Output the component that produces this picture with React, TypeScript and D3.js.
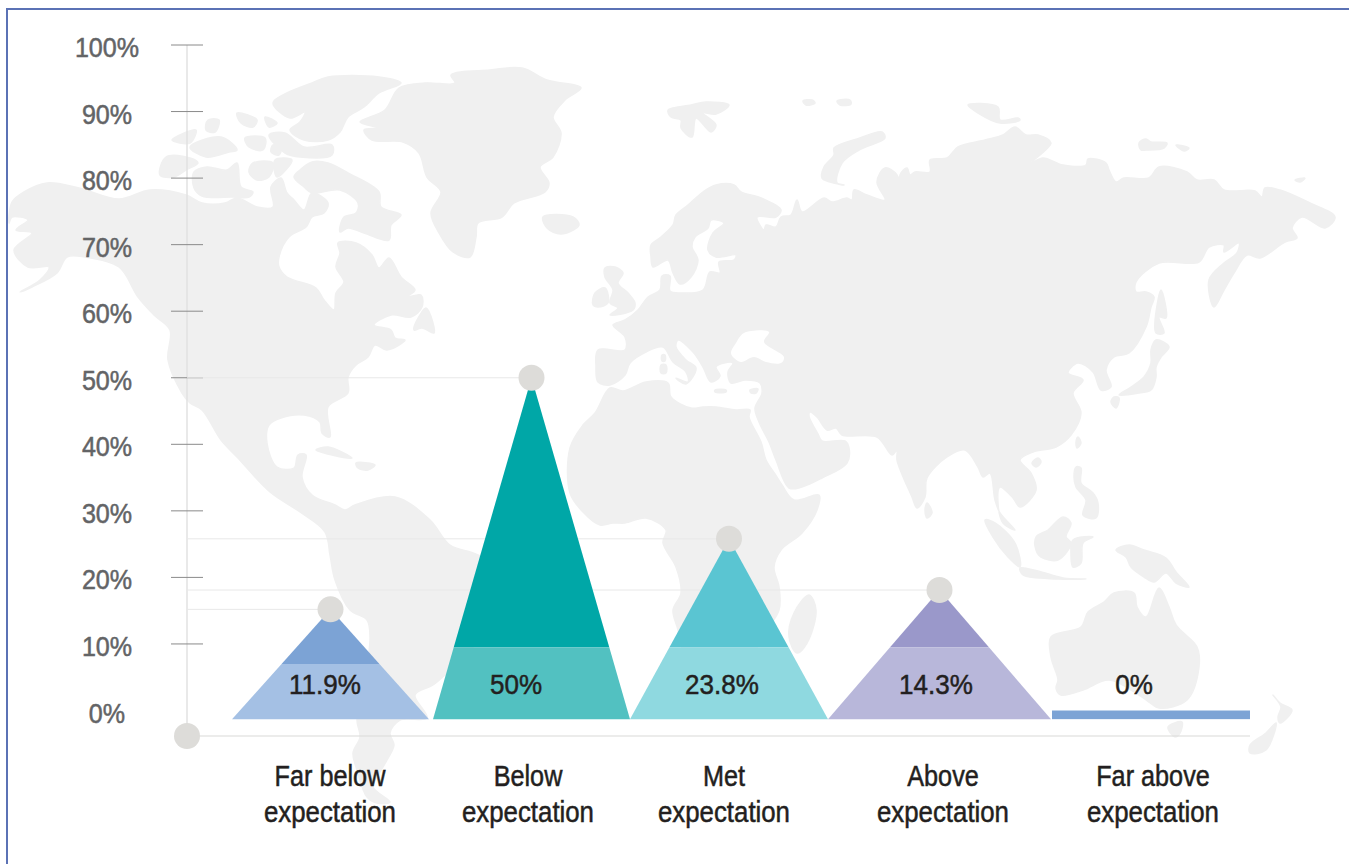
import React from "react";
import * as d3 from "d3";

// ---- chart data ----
const categories = ["Far below", "Below", "Met", "Above", "Far above"];
const shownValues = ["11.9%", "50%", "23.8%", "14.3%", "0%"];
// heights of the markers, as read against the printed y axis
const peakValues = [15.2, 50, 25.8, 18.1, 0];
// level of the darker/lighter split inside each triangle, read against the axis
const splitValues = [7, 9.5, 9.5, 9.5, 0];
const tickValues = [0, 10, 20, 30, 40, 50, 60, 70, 80, 90, 100];
const baseValue = -1.3;

// ---- background world map (decorative outline, pixel coordinates) ----
type P = [number, number];
const land: P[][] = [
  // Americas
  [[9,223],[12,202],[24,192],[47,183],[79,188],[119,199],[150,190],[186,195],[202,203],[225,203],[237,198],[257,207],[273,207],[271,187],[281,178],[287,193],[294,200],[304,210],[312,193],[328,203],[324,213],[312,217],[306,227],[289,237],[279,257],[279,267],[287,277],[316,288],[324,300],[334,310],[336,293],[344,282],[336,267],[340,253],[338,243],[356,243],[372,255],[379,268],[389,258],[401,277],[415,290],[407,297],[421,295],[422,307],[411,317],[391,315],[374,325],[391,330],[395,338],[405,340],[387,350],[375,345],[368,357],[356,365],[348,377],[348,393],[328,407],[330,437],[322,433],[320,422],[304,415],[281,418],[269,425],[267,443],[277,467],[294,468],[298,455],[306,455],[302,477],[312,495],[335,505],[345,510],[355,505],[395,497],[430,520],[450,545],[478,555],[510,580],[495,625],[470,650],[447,673],[433,685],[415,695],[427,718],[400,720],[390,733],[394,745],[387,760],[380,772],[373,787],[390,802],[377,803],[367,797],[357,770],[353,753],[360,737],[357,720],[365,680],[370,637],[367,620],[350,610],[335,580],[330,555],[325,532],[300,512],[270,492],[237,457],[221,440],[202,410],[190,403],[182,393],[168,360],[170,330],[154,315],[138,297],[119,267],[85,257],[67,257],[57,273],[32,287],[20,292],[40,280],[49,267],[28,267],[14,250],[32,233],[16,230],[28,220],[12,217]],
  // Arctic Canada
  [[300,170],[312,162],[328,163],[348,173],[379,192],[381,207],[401,215],[391,225],[389,240],[364,233],[348,228],[340,232],[344,217],[356,213],[358,203],[340,190],[312,193],[304,187],[294,177]],
  [[194,172],[207,167],[227,170],[237,163],[241,187],[253,192],[249,197],[233,197],[202,196],[194,188]],
  [[166,157],[190,158],[198,163],[186,170],[174,177],[160,175]],
  [[273,103],[289,92],[312,83],[328,77],[379,77],[401,83],[379,93],[364,107],[348,117],[340,132],[328,140],[304,140],[290,130],[300,122],[305,112],[290,118]],
  [[269,135],[285,133],[304,147],[332,145],[332,155],[300,157],[285,153]],
  [[253,163],[273,163],[269,177],[257,180],[249,172]],
  [[275,160],[292,160],[277,177]],
  [[190,147],[221,137],[237,150],[229,152],[206,157]],
  [[172,140],[196,130],[190,143]],
  [[237,113],[257,120],[253,127],[241,123]],
  [[265,117],[277,123],[269,127]],
  [[208,120],[219,120],[215,132],[206,130]],
  [[245,138],[265,138],[263,150],[249,147]],
  [[273,145],[281,148],[279,155],[271,152]],
  [[426,308],[433,323],[434,333],[422,328],[414,330],[420,315]],
  [[316,450],[328,447],[352,458],[332,455]],
  [[356,463],[375,465],[368,470],[358,468]],
  // Greenland, Iceland
  [[399,88],[425,83],[455,83],[451,75],[490,70],[522,68],[547,80],[581,88],[565,100],[553,117],[561,133],[553,157],[540,167],[549,183],[545,192],[514,203],[502,217],[478,223],[476,237],[470,257],[453,252],[439,233],[431,213],[441,192],[427,177],[419,153],[403,142],[372,140],[364,130],[379,128],[360,122],[385,110]],
  [[543,217],[573,217],[579,225],[561,234],[547,228]],
  // Eurasia
  [[598,382],[610,385],[625,375],[630,363],[646,352],[663,347],[673,362],[686,372],[688,382],[676,378],[686,384],[696,368],[686,360],[676,347],[678,340],[693,352],[703,367],[711,382],[720,376],[716,367],[724,363],[733,363],[728,372],[731,383],[745,380],[760,383],[762,393],[755,408],[759,422],[769,442],[776,460],[789,488],[802,487],[822,478],[847,463],[849,448],[845,441],[822,441],[818,434],[809,416],[810,412],[817,417],[827,430],[836,428],[842,435],[877,437],[892,455],[897,450],[897,460],[912,497],[917,508],[925,497],[927,478],[947,457],[965,450],[978,467],[983,477],[990,473],[995,500],[1000,513],[1015,530],[1003,523],[998,503],[1000,487],[1013,498],[1020,507],[1036,490],[1031,473],[1020,460],[1033,452],[1056,447],[1071,435],[1081,413],[1073,393],[1083,380],[1068,373],[1078,363],[1093,372],[1101,390],[1111,387],[1106,370],[1114,357],[1129,353],[1146,327],[1151,307],[1154,297],[1146,292],[1136,292],[1136,282],[1159,263],[1199,262],[1209,247],[1224,245],[1224,252],[1239,243],[1237,253],[1224,263],[1209,280],[1214,307],[1224,290],[1234,273],[1247,255],[1260,258],[1285,242],[1297,238],[1292,228],[1302,217],[1325,228],[1335,217],[1310,203],[1280,190],[1265,188],[1262,197],[1255,191],[1224,190],[1214,180],[1197,180],[1187,172],[1159,167],[1149,178],[1124,178],[1116,182],[1109,170],[1106,163],[1088,159],[1086,165],[1063,165],[1043,158],[1031,163],[1051,143],[1038,135],[1026,135],[1015,127],[1003,135],[985,140],[958,147],[947,158],[930,160],[930,172],[915,172],[910,175],[907,168],[900,175],[902,200],[897,175],[885,168],[877,182],[885,200],[867,195],[854,190],[852,200],[847,198],[832,202],[824,198],[802,212],[797,200],[791,215],[781,217],[776,227],[766,225],[764,230],[757,217],[776,217],[781,210],[761,198],[741,192],[734,185],[716,185],[703,192],[688,205],[676,215],[673,225],[661,237],[651,245],[651,257],[653,267],[668,260],[673,273],[680,284],[691,277],[698,260],[692,247],[695,237],[708,228],[711,220],[724,223],[713,233],[708,250],[716,257],[736,255],[734,260],[719,262],[720,273],[710,272],[703,290],[681,293],[670,291],[670,276],[662,276],[660,290],[648,297],[638,310],[625,320],[613,325],[625,337],[625,350],[598,350],[596,367]],
  // Africa, Madagascar
  [[610,388],[623,391],[646,382],[668,383],[671,397],[691,408],[703,407],[716,407],[736,410],[750,410],[749,417],[761,442],[766,460],[775,474],[782,485],[794,500],[819,495],[817,510],[802,533],[781,550],[774,567],[779,587],[779,610],[760,640],[740,690],[700,700],[685,660],[678,630],[673,610],[681,593],[676,567],[663,543],[666,530],[646,518],[625,523],[613,523],[600,525],[583,512],[570,493],[570,448],[583,425],[595,413]],
  [[809,595],[816,610],[807,643],[797,653],[789,637],[794,613]],
  // Asia islands
  [[1161,290],[1166,318],[1159,317],[1164,333],[1156,333],[1158,300]],
  [[1156,340],[1169,347],[1161,357],[1156,367],[1156,377],[1151,390],[1139,393],[1119,395],[1131,387],[1144,377],[1151,363],[1151,350]],
  [[1114,397],[1119,398],[1116,408],[1111,402]],
  [[834,148],[857,139],[882,132],[885,138],[859,150],[842,163],[837,183],[844,185],[822,178],[824,167],[834,155]],
  [[668,110],[691,105],[706,102],[729,105],[716,114],[703,113],[716,125],[711,132],[696,118],[692,137],[681,128],[681,120],[671,117]],
  [[968,105],[998,107],[1000,120],[1018,118],[1020,120],[1000,123],[978,113]],
  [[1139,143],[1146,139],[1151,142],[1167,143],[1164,148],[1146,150],[1141,150]],
  [[1176,145],[1189,148],[1184,151]],
  [[1295,180],[1305,178],[1300,182]],
  [[803,101],[812,100],[815,103],[806,105]],
  [[837,101],[850,100],[851,104],[840,105]],
  [[615,267],[623,273],[618,283],[628,293],[635,303],[633,310],[610,315],[618,308],[610,303],[613,290],[605,277],[605,268]],
  [[595,293],[605,288],[608,303],[598,307],[593,305]],
  [[662,355],[665,355],[665,361],[662,361]],
  [[661,365],[666,365],[666,373],[661,373]],
  [[715,390],[726,390],[726,392],[715,392]],
  [[750,390],[758,389],[756,393],[751,393]],
  [[927,503],[932,513],[927,518],[925,510]],
  [[1078,437],[1081,443],[1077,448],[1076,442]],
  [[1038,458],[1041,462],[1036,467],[1032,463]],
  [[985,520],[995,523],[1015,543],[1020,567],[1008,557],[993,537]],
  [[1020,568],[1038,571],[1063,578],[1086,579],[1058,579],[1023,575]],
  [[1036,537],[1048,530],[1063,517],[1071,523],[1066,537],[1071,543],[1058,560],[1041,557],[1036,550]],
  [[1073,540],[1093,537],[1083,543],[1081,563],[1073,567],[1071,555]],
  [[1076,467],[1081,468],[1081,483],[1093,493],[1098,503],[1096,518],[1083,515],[1086,500],[1076,487],[1074,477]],
  [[1116,550],[1129,545],[1144,550],[1166,558],[1176,572],[1189,587],[1176,583],[1166,573],[1154,582],[1144,577],[1131,567],[1126,557]],
  // Oceania
  [[1114,593],[1134,593],[1137,607],[1146,617],[1159,588],[1169,607],[1176,625],[1197,647],[1199,667],[1187,700],[1159,708],[1149,702],[1139,695],[1109,680],[1083,690],[1061,695],[1056,688],[1058,680],[1051,657],[1051,637],[1081,627],[1088,612],[1104,602]],
  [[1168,727],[1182,722],[1180,733],[1175,737]],
  [[1273,695],[1280,703],[1292,710],[1280,723],[1278,717],[1281,707]],
  [[1276,723],[1266,750],[1250,753],[1250,745],[1266,733]],
];
const seas: P[][] = [
  [[744,333],[769,332],[764,342],[784,357],[781,363],[766,362],[754,357],[741,362],[734,358],[731,353],[736,343]],
];

const W = 1349;
const H = 864;
const BAND_LIGHT = ["#a4c0e4", "#52c1c1", "#8fd9e0", "#b8b7da", "#7ca3d5"];
const BAND_DARK = ["#7ca3d5", "#00a7a7", "#5ac5d2", "#9a98ca", "#7ca3d5"];
const FONT = "'Liberation Sans', Arial, sans-serif";

function Label({ x, y, text, size, sx, fill, weight }: { x: number; y: number; text: string; size: number; sx: number; fill: string; weight: number }) {
  return (
    <text transform={`translate(${x},${y}) scale(${sx},1)`} textAnchor="middle" fontFamily={FONT} fontSize={size} fill={fill} stroke={fill} strokeWidth={weight}>
      {text}
    </text>
  );
}

export default function App() {
  const y = d3.scaleLinear().domain([0, 100]).range([710.5, 45]);
  const xLeft = d3.scaleOrdinal<string, number>().domain(categories).range([232, 433, 630, 828, 1052]);
  const xRight = d3.scaleOrdinal<string, number>().domain(categories).range([429, 630, 828, 1051, 1250]);
  const labelX = d3.scaleOrdinal<string, number>().domain(categories).range([330, 528, 724, 943, 1153]);
  const valueX = d3.scaleOrdinal<string, number>().domain(categories).range([325, 516, 722, 936, 1134]);
  const axisX = 187;
  const baselineY = 736;
  const outline = d3.line().curve(d3.curveCatmullRomClosed.alpha(0.5));
  const poly = d3.line().curve(d3.curveLinearClosed);
  const y0 = y(baseValue);

  return (
    <svg width={W} height={H} viewBox={`0 0 ${W} ${H}`} style={{ position: "absolute", left: 0, top: 0, display: "block", background: "#fff" }}>
      <rect x={7} y={9} width={W + 20} height={H + 20} fill="none" stroke="#5b72b5" strokeWidth={2} />
      <g fill="#f0f0f0" stroke="#f0f0f0" strokeWidth={1.5} strokeLinejoin="round">
        {land.map((p, i) => <path key={i} d={outline(p) as string} />)}
      </g>
      <g fill="#fff">
        {seas.map((p, i) => <path key={i} d={outline(p) as string} />)}
      </g>

      <line x1={axisX} x2={axisX} y1={y(100)} y2={baselineY} stroke="#e2e2e2" strokeWidth={1.5} />
      <line x1={axisX} x2={xRight("Far above")} y1={baselineY} y2={baselineY} stroke="#d9d9d7" strokeWidth={1.2} />
      {tickValues.filter((t) => t > 0).map((t) => (
        <line key={t} x1={171} x2={203} y1={y(t)} y2={y(t)} stroke="#8a8a8a" strokeWidth={1} />
      ))}
      {tickValues.map((t) => (
        <Label key={t} x={107} y={y(t) + 12} text={`${t}%`} size={27} sx={0.93} fill="#636466" weight={0.5} />
      ))}

      {categories.map((c, i) => {
        const peak = peakValues[i];
        const l = xLeft(c);
        const r = xRight(c);
        if (peak <= 0) return null;
        return <line key={c} x1={axisX} x2={(l + r) / 2} y1={y(peak)} y2={y(peak)} stroke="#e8e8e8" strokeWidth={1} />;
      })}

      {categories.map((c, i) => {
        const peak = peakValues[i];
        const l = xLeft(c);
        const r = xRight(c);
        if (peak <= 0) {
          return <rect key={c} x={l} y={y(0)} width={r - l} height={y0 - y(0)} fill={BAND_DARK[i]} />;
        }
        const cx = (l + r) / 2;
        const top = y(peak);
        const split = y(splitValues[i]);
        const t = (split - top) / (y0 - top);
        const sl = cx + (l - cx) * t;
        const sr = cx + (r - cx) * t;
        return (
          <g key={c}>
            <path d={poly([[cx, top], [sr, split], [sl, split]]) as string} fill={BAND_DARK[i]} />
            <path d={poly([[sl, split], [sr, split], [r, y0], [l, y0]]) as string} fill={BAND_LIGHT[i]} />
            <circle cx={cx} cy={top} r={13} fill="#dddcd9" />
          </g>
        );
      })}
      <circle cx={axisX} cy={baselineY} r={13} fill="#dddcd9" />

      {categories.map((c, i) => (
        <g key={c}>
          <Label x={valueX(c)} y={694} text={shownValues[i]} size={28} sx={0.93} fill="#231f20" weight={0.5} />
          <Label x={labelX(c)} y={786} text={c} size={29} sx={0.87} fill="#231f20" weight={0.5} />
          <Label x={labelX(c)} y={822} text="expectation" size={29} sx={0.89} fill="#231f20" weight={0.5} />
        </g>
      ))}
    </svg>
  );
}
